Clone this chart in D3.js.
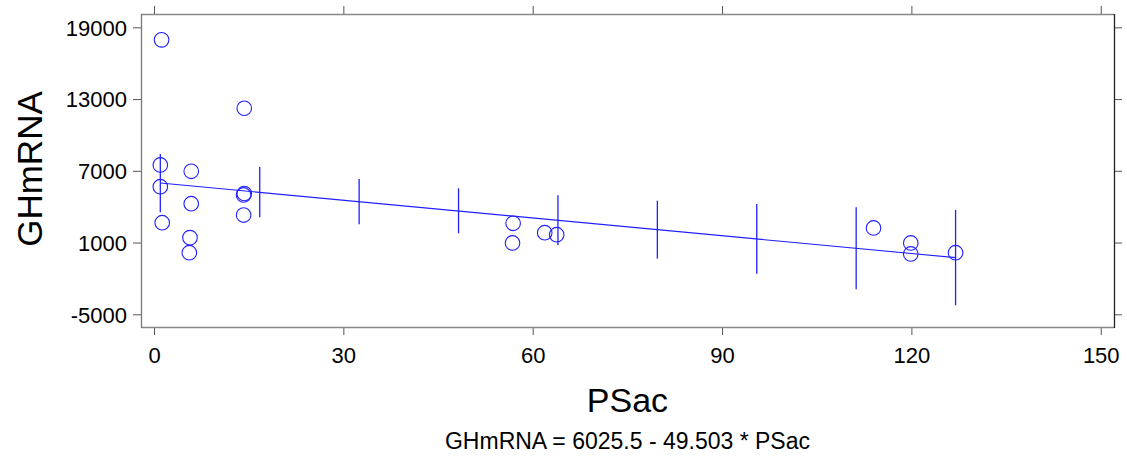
<!DOCTYPE html>
<html>
<head>
<meta charset="UTF-8">
<title>GHmRNA vs PSac</title>
<script src="https://cdn.jsdelivr.net/npm/d3@7/dist/d3.min.js"></script>
<style>
body { margin: 0; background: #fff; }
text { font-family: Arial, "Liberation Sans", sans-serif; fill: #000; }
.tick line { stroke: #555; }
</style>
</head>
<body>
<div id="grafico"></div>
<script>
// datos
var psac   = [1.2, 14.3, 1.0, 5.9, 1.0, 14.3, 14.2, 5.9, 14.2, 1.3, 5.7, 5.6, 56.9, 56.8, 61.9, 63.8, 114.0, 119.9, 119.9, 127.0];
var ghmrna = [17950, 12230, 7490, 6960, 5670, 5100, 4980, 4250, 3300, 2660, 1410, 150, 2610, 965, 1825, 1657, 2220, 965, 45, 150];

// recta de regresion
var intercepto = 6025.5;
var pendiente = -49.503;

// intervalos de confianza (barras verticales)
var ciX    = [1, 16.75, 32.5, 48.25, 64, 79.75, 95.5, 111.25, 127];
var ciHigh = [8405, 7318, 6316, 5537, 4952, 4500, 4224, 3948, 3722];
var ciLow  = [3530, 3112, 2527, 1774, 771, -350, -1604, -2909, -4246];

var xTicks = [0, 30, 60, 90, 120, 150];
var yTicks = [-5000, 1000, 7000, 13000, 19000];

var w = 1127, h = 457;
var izq = 141, der = 1114, arriba = 14, abajo = 327;
var azul = "#2020ff";

// formato con guion normal, no el signo menos unicode
var fmt = function(d) { return String(d); };

var svg = d3.select("#grafico").append("svg")
  .attr("width", w).attr("height", h);

var xScale = d3.scaleLinear().domain([-2.06, 152.1]).range([izq, der]);
var yScale = d3.scaleLinear().domain([-6062, 20112]).range([abajo, arriba]);

// ejes
var ejeX = svg.append("g").attr("transform", "translate(0," + abajo + ")")
  .call(d3.axisBottom(xScale).tickValues(xTicks).tickSize(8).tickFormat(fmt));
ejeX.select(".domain").remove();
ejeX.selectAll("text").attr("y", 36).attr("dy", 0).style("font-size", "22px");

var ejeXArriba = svg.append("g").attr("transform", "translate(0," + arriba + ")")
  .call(d3.axisTop(xScale).tickValues(xTicks).tickSize(8).tickFormat(""));
ejeXArriba.select(".domain").remove();

var ejeY = svg.append("g").attr("transform", "translate(" + izq + ",0)")
  .call(d3.axisLeft(yScale).tickValues(yTicks).tickSize(8).tickPadding(6).tickFormat(fmt));
ejeY.select(".domain").remove();
ejeY.selectAll("text").style("font-size", "22px").attr("dy", "0.36em");

var ejeYDer = svg.append("g").attr("transform", "translate(" + der + ",0)")
  .call(d3.axisRight(yScale).tickValues(yTicks).tickSize(8).tickFormat(""));
ejeYDer.select(".domain").remove();

// marco
svg.append("line").attr("x1", izq).attr("x2", der).attr("y1", arriba + 0.5).attr("y2", arriba + 0.5).attr("stroke", "#888").attr("stroke-width", 1.3);
svg.append("line").attr("x1", izq).attr("x2", der).attr("y1", abajo + 0.5).attr("y2", abajo + 0.5).attr("stroke", "#888").attr("stroke-width", 1.3);
svg.append("line").attr("x1", izq + 0.5).attr("x2", izq + 0.5).attr("y1", arriba).attr("y2", abajo + 1).attr("stroke", "#777").attr("stroke-width", 1.3);
svg.append("line").attr("x1", der + 0.5).attr("x2", der + 0.5).attr("y1", arriba).attr("y2", abajo + 1).attr("stroke", "#222").attr("stroke-width", 1.3);

// recta
var xMin = d3.min(psac), xMax = d3.max(psac);
svg.append("line")
  .attr("x1", xScale(xMin)).attr("y1", yScale(intercepto + pendiente * xMin))
  .attr("x2", xScale(xMax)).attr("y2", yScale(intercepto + pendiente * xMax))
  .attr("stroke", azul).attr("stroke-width", 1.1);

// barras de confianza
svg.selectAll(".ci").data(ciX).enter().append("line")
  .attr("class", "ci")
  .attr("x1", function(d) { return xScale(d); })
  .attr("x2", function(d) { return xScale(d); })
  .attr("y1", function(d, i) { return yScale(ciHigh[i]); })
  .attr("y2", function(d, i) { return yScale(ciLow[i]); })
  .attr("stroke", azul).attr("stroke-width", 1.3);

// puntos
svg.selectAll(".punto").data(psac).enter().append("circle")
  .attr("class", "punto")
  .attr("cx", function(d) { return xScale(d); })
  .attr("cy", function(d, i) { return yScale(ghmrna[i]); })
  .attr("r", 7.3)
  .attr("fill", "none").attr("stroke", azul).attr("stroke-width", 1.1);

// titulos
svg.append("text").attr("x", (izq + der) / 2).attr("y", 412)
  .attr("text-anchor", "middle").style("font-size", "34px").text("PSac");
svg.append("text").attr("transform", "translate(42,169) rotate(-90)")
  .attr("text-anchor", "middle").style("font-size", "35px").text("GHmRNA");
svg.append("text").attr("x", (izq + der) / 2).attr("y", 449)
  .attr("text-anchor", "middle").style("font-size", "23px").text("GHmRNA = 6025.5 - 49.503 * PSac");
</script>
</body>
</html>
